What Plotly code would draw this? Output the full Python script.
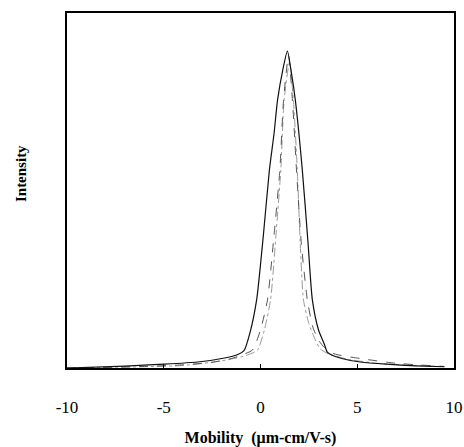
import plotly.graph_objects as go

# Curve A: black solid (widest)
xa = [-10, -7, -5, -3.25, -2, -1.2, -0.85, -0.55, -0.2, 0.15, 0.46, 0.7, 0.88, 1.15, 1.39, 1.6, 1.8, 2.16, 2.45, 2.68, 3.0, 3.3, 3.45, 3.7, 4.2, 5.15, 6.5, 8, 9.5]
ya = [0.0, 0.006, 0.012, 0.019, 0.03, 0.042, 0.055, 0.11, 0.215, 0.42, 0.625, 0.74, 0.845, 0.94, 1.0, 0.93, 0.845, 0.625, 0.4, 0.215, 0.12, 0.075, 0.05, 0.04, 0.03, 0.019, 0.012, 0.007, 0.004]

# Curve B: dark dashed (narrower)
xb = [-10, -6, -4, -2.5, -1.5, -0.8, -0.41, 0.0, 0.36, 0.7, 1.0, 1.19, 1.45, 1.65, 1.86, 2.1, 2.42, 2.7, 3.0, 3.3, 3.8, 5.15, 7, 9.5]
yb = [0.0, 0.005, 0.01, 0.018, 0.03, 0.045, 0.057, 0.12, 0.215, 0.42, 0.625, 0.845, 0.985, 0.845, 0.625, 0.4, 0.215, 0.13, 0.088, 0.065, 0.045, 0.03, 0.015, 0.005]

# Curve C: gray dash-dot (narrowest)
xc = [-10, -6, -4, -2.06, -1.0, -0.5, -0.15, 0.2, 0.52, 0.8, 1.05, 1.22, 1.5, 1.7, 1.9, 2.05, 2.22, 2.5, 2.84, 3.09, 3.5, 4.5, 6, 8, 9.5]
yc = [0.0, 0.004, 0.008, 0.022, 0.035, 0.045, 0.057, 0.12, 0.215, 0.42, 0.625, 0.845, 0.965, 0.845, 0.625, 0.4, 0.215, 0.14, 0.088, 0.06, 0.045, 0.028, 0.015, 0.008, 0.004]

xticks = [-10, -5, 0, 5, 10]

fig = go.Figure()
fig.add_trace(go.Scatter(x=xc, y=yc, mode="lines",
                         line=dict(color="#9a9a9a", width=1, dash="dashdot", shape="spline", smoothing=0.6)))
fig.add_trace(go.Scatter(x=xb, y=yb, mode="lines",
                         line=dict(color="#555555", width=1, dash="dash", shape="spline", smoothing=0.6)))
fig.add_trace(go.Scatter(x=xa, y=ya, mode="lines",
                         line=dict(color="#111111", width=1.2, shape="spline", smoothing=0.6)))

fig.update_layout(
    width=464, height=447,
    margin=dict(l=67, r=10, t=13, b=79, autoexpand=False),
    paper_bgcolor="white", plot_bgcolor="white",
    showlegend=False,
    font=dict(family="Liberation Serif, Times New Roman, serif", color="black"),
    xaxis=dict(range=[-10, 10], tickvals=xticks, ticktext=[str(v) for v in xticks],
               ticks="inside", ticklen=4, tickcolor="black",
               showline=True, linecolor="black", linewidth=1.5, mirror=True,
               showgrid=False, zeroline=False, automargin=False,
               tickfont=dict(size=17), ticklabelstandoff=23, ticklabeloverflow="allow",
               title=dict(text="<b>Mobility  (μm-cm/V-s)</b>", font=dict(size=16), standoff=16)),
    yaxis=dict(range=[0, 1.12], showticklabels=False, ticks="",
               showline=True, linecolor="black", linewidth=1.5, mirror=True,
               showgrid=False, zeroline=False, automargin=False),
    annotations=[dict(text="<b>Intensity</b>", xref="paper", yref="paper",
                      x=-0.119, y=0.549, xanchor="center", yanchor="middle",
                      textangle=-90, showarrow=False, font=dict(size=15))],
)

fig.write_html("out.html", config={"displayModeBar": False},
               post_script="document.body.style.margin='0';document.body.style.overflow='hidden';")
